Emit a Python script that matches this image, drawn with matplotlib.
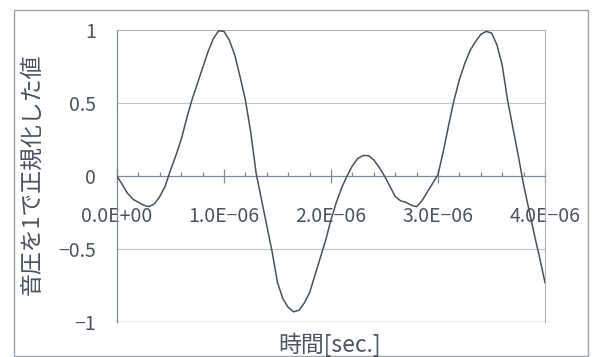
import numpy as np
import matplotlib.pyplot as plt
from matplotlib.patches import Rectangle

# ---------- data ----------
t_us = [0.00, 0.05, 0.10, 0.15, 0.20, 0.25, 0.30, 0.35, 0.40, 0.45,
        0.50, 0.55, 0.60, 0.65, 0.70, 0.75, 0.80, 0.85, 0.90, 0.95,
        1.00, 1.05, 1.10, 1.15, 1.20, 1.25, 1.30, 1.35, 1.40, 1.45,
        1.50, 1.55, 1.60, 1.65, 1.70, 1.75, 1.80, 1.85, 1.90, 1.95,
        2.00, 2.05, 2.10, 2.15, 2.20, 2.25, 2.30, 2.35, 2.40, 2.45,
        2.50, 2.55, 2.60, 2.65, 2.70, 2.75, 2.80, 2.85, 2.90, 2.95,
        3.00, 3.05, 3.10, 3.15, 3.20, 3.25, 3.30, 3.35, 3.40, 3.45,
        3.50, 3.55, 3.60, 3.65, 3.70, 3.75, 3.80, 3.85, 3.90, 3.95,
        4.00]
pressure = [0.00, -0.06, -0.12, -0.16, -0.18, -0.20, -0.21, -0.19, -0.14, -0.07,
            0.04, 0.14, 0.25, 0.39, 0.52, 0.63, 0.74, 0.85, 0.94, 0.995,
            0.99, 0.93, 0.83, 0.68, 0.52, 0.30, 0.02, -0.16, -0.34, -0.52,
            -0.73, -0.84, -0.90, -0.93, -0.92, -0.87, -0.80, -0.68, -0.56, -0.44,
            -0.30, -0.18, -0.08, 0.00, 0.07, 0.12, 0.14, 0.14, 0.11, 0.06,
            0.00, -0.07, -0.14, -0.17, -0.18, -0.20, -0.21, -0.17, -0.11, -0.05,
            0.01, 0.17, 0.35, 0.52, 0.66, 0.77, 0.86, 0.92, 0.97, 0.99,
            0.98, 0.90, 0.76, 0.52, 0.33, 0.14, -0.06, -0.23, -0.40, -0.56,
            -0.73]
t_sec = [v * 1e-6 for v in t_us]

xticks = [0, 1e-6, 2e-6, 3e-6, 4e-6]
xtick_labels = ['0.0E+00', '1.0E\u221206', '2.0E\u221206', '3.0E\u221206', '4.0E\u221206']
yticks = [-1, -0.5, 0, 0.5, 1]
ytick_labels = ['\u22121', '\u22120.5', '0', '0.5', '1']

# ---------- style ----------
plt.rcParams['font.family'] = ['Noto Sans CJK JP', 'DejaVu Sans']
TXT = '#4a5561'
LINE = '#46525e'
AXIS = '#7d8b97'
GRID = '#bcc6cd'
BORDER = '#aab2b9'

W, H = 599, 357
fig = plt.figure(figsize=(W / 100, H / 100), dpi=100)

# outer chart frame
fig.patches.append(Rectangle((14 / W, 1 - 356 / H), (588 - 14) / W, (356 - 10) / H,
                             transform=fig.transFigure, fill=False,
                             edgecolor='#9aa3aa', lw=1.0))

ax = fig.add_axes([117 / W, 1 - 322 / H, (545 - 117) / W, (322 - 30) / H])
ax.plot(t_sec, pressure, color=LINE, lw=1.1, zorder=3)

ax.set_xlim(0, 4e-6)
ax.set_ylim(-1, 1)

# plot-area border + gridlines
for s in ('top', 'right'):
    ax.spines[s].set_color(BORDER)
    ax.spines[s].set_linewidth(0.8)
ax.axhline(-1, color=BORDER, lw=1.0, zorder=1)
for g in (0.5, -0.5):
    ax.axhline(g, color=GRID, lw=0.8, zorder=1)

ax.spines['left'].set_color(AXIS)
ax.spines['left'].set_linewidth(0.9)
ax.spines['bottom'].set_position(('data', 0))
ax.spines['bottom'].set_color(AXIS)
ax.spines['bottom'].set_linewidth(0.9)

ax.set_xticks(xticks)
ax.set_xticklabels(xtick_labels)
ax.set_xticks(np.arange(0, 4.01e-6, 0.2e-6), minor=True)
ax.tick_params(axis='x', which='major', direction='inout', length=10, width=0.9,
               color=AXIS, pad=16.5, labelsize=14, labelcolor=TXT)
ax.tick_params(axis='x', which='minor', direction='in', length=3, width=0.9, color=AXIS)

ax.set_yticks(yticks)
ax.set_yticklabels(ytick_labels)
ax.tick_params(axis='y', length=0, pad=15, labelsize=14, labelcolor=TXT)

fig.text(330 / W, 1 - 345 / H, '時間[sec.]', ha='center', va='center',
         fontsize=16.5, color=TXT)
fig.text(32 / W, 1 - 174 / H, '音圧を1で正規化した値', ha='center', va='center',
         rotation=90, fontsize=16.5, color=TXT)

fig.savefig('out.png', dpi=100)
